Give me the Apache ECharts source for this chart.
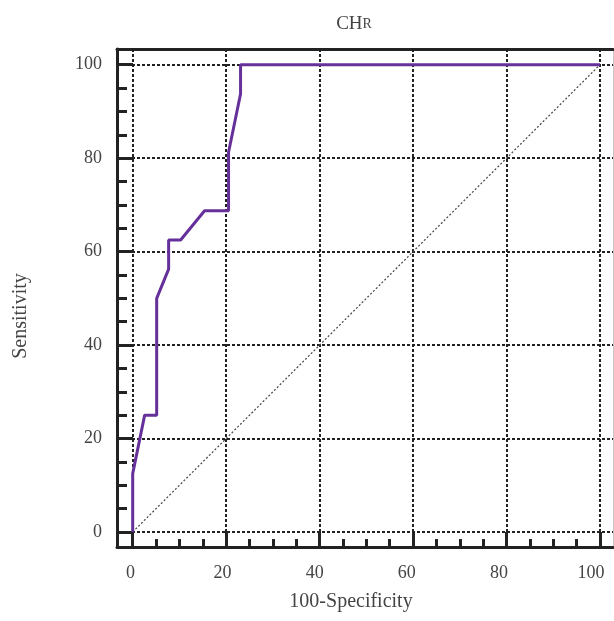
<!DOCTYPE html>
<html>
<head>
<meta charset="utf-8">
<script src="https://cdn.jsdelivr.net/npm/echarts@6/dist/echarts.min.js"></script>
<style>
  html, body { margin: 0; padding: 0; background: #fff; }
  #chart { width: 614px; height: 621px; }
</style>
</head>
<body>
<div id="chart"></div>
<script>
// ROC curve points (100-Specificity, Sensitivity)
const specificity = [0, 0, 2.56, 5.13, 5.13, 7.69, 7.69, 10.26, 15.38, 20.51, 20.51, 23.08, 23.08, 100];
const sensitivity = [0, 12.5, 25, 25, 50, 56.25, 62.5, 62.5, 68.75, 68.75, 81.25, 93.75, 100, 100];
// reference diagonal
const diagX = [0, 100];
const diagY = [0, 100];
// ticks
const majorTicks = [0, 20, 40, 60, 80, 100];
const minorTicks = [5, 10, 15, 25, 30, 35, 45, 50, 55, 65, 70, 75, 85, 90, 95];

const FONT = 'Liberation Serif';
const TXT = '#444';
const INK = '#222';

var myChart = echarts.init(document.getElementById('chart'));

const xRange = { min: -3.36, max: 102.78 };
const yRange = { min: -3.21, max: 103.36 };
// x tick labels sit on a slightly tighter scale than the ticks in the original
const xLabelRange = { min: -2.93, max: 104.78 };

myChart.setOption({
  animation: false,
  title: {
    text: '{a|CH}{b|R}',
    left: 349,
    top: 10,
    textAlign: 'center',
    textStyle: {
      rich: {
        a: { fontFamily: FONT, fontSize: 19, color: TXT, fontWeight: 'normal' },
        b: { fontFamily: FONT, fontSize: 14, color: TXT, fontWeight: 'normal' }
      }
    }
  },
  grid: { left: 117, right: 1, top: 49, bottom: 74 },
  xAxis: [
    {
      type: 'value', position: 'bottom', ...xRange,
      axisLine: { show: true, onZero: false, lineStyle: { color: INK, width: 3 } },
      axisTick: { show: true, inside: true, length: 15, customValues: majorTicks, lineStyle: { color: INK, width: 3 } },
      axisLabel: { show: false },
      splitLine: { show: true, lineStyle: { color: INK, width: 2, type: [3, 2] } }
    },
    {
      type: 'value', position: 'bottom', ...xRange,
      axisLine: { show: false, onZero: false },
      axisTick: { show: true, inside: true, length: 8, customValues: minorTicks, lineStyle: { color: INK, width: 3 } },
      axisLabel: { show: false },
      splitLine: { show: false }
    },
    {
      type: 'value', position: 'bottom', ...xLabelRange,
      name: '100-Specificity', nameLocation: 'middle', nameGap: 45,
      nameTextStyle: { fontFamily: FONT, fontSize: 20, color: TXT, padding: [0, 28, 0, 0] },
      axisLine: { show: false, onZero: false },
      axisTick: { show: false },
      axisLabel: { customValues: majorTicks, margin: 17, fontFamily: FONT, fontSize: 18, color: TXT },
      splitLine: { show: false }
    },
    {
      type: 'value', position: 'top', ...xRange,
      axisLine: { show: true, onZero: false, lineStyle: { color: INK, width: 3 } },
      axisTick: { show: false },
      axisLabel: { show: false },
      splitLine: { show: false }
    }
  ],
  yAxis: [
    {
      type: 'value', position: 'left', ...yRange,
      name: 'Sensitivity', nameLocation: 'middle', nameGap: 86,
      nameTextStyle: { fontFamily: FONT, fontSize: 20, color: TXT, padding: [0, 36, 0, 0] },
      axisLine: { show: true, onZero: false, lineStyle: { color: INK, width: 3 } },
      axisTick: { show: true, inside: true, length: 16, customValues: majorTicks, lineStyle: { color: INK, width: 3 } },
      axisLabel: { customValues: majorTicks, margin: 15, fontFamily: FONT, fontSize: 18, color: TXT, padding: [6, 0, 0, 0] },
      splitLine: { show: true, lineStyle: { color: INK, width: 2, type: [3, 2] } }
    },
    {
      type: 'value', position: 'left', ...yRange,
      axisLine: { show: false, onZero: false },
      axisTick: { show: true, inside: true, length: 10, customValues: minorTicks, lineStyle: { color: INK, width: 3 } },
      axisLabel: { show: false },
      splitLine: { show: false }
    },
    {
      type: 'value', position: 'right', ...yRange,
      axisLine: { show: true, onZero: false, lineStyle: { color: '#c8c8c8', width: 1 } },
      axisTick: { show: false },
      axisLabel: { show: false },
      splitLine: { show: false }
    }
  ],
  series: [
    {
      type: 'line',
      data: diagX.map((x, i) => [x, diagY[i]]),
      symbol: 'none',
      silent: true,
      lineStyle: { color: '#444', width: 1.2, type: [2, 2] },
      z: 2
    },
    {
      type: 'line',
      data: specificity.map((x, i) => [x, sensitivity[i]]),
      symbol: 'none',
      lineStyle: { color: '#66309a', width: 3 },
      z: 3
    }
  ]
});
</script>
</body>
</html>
